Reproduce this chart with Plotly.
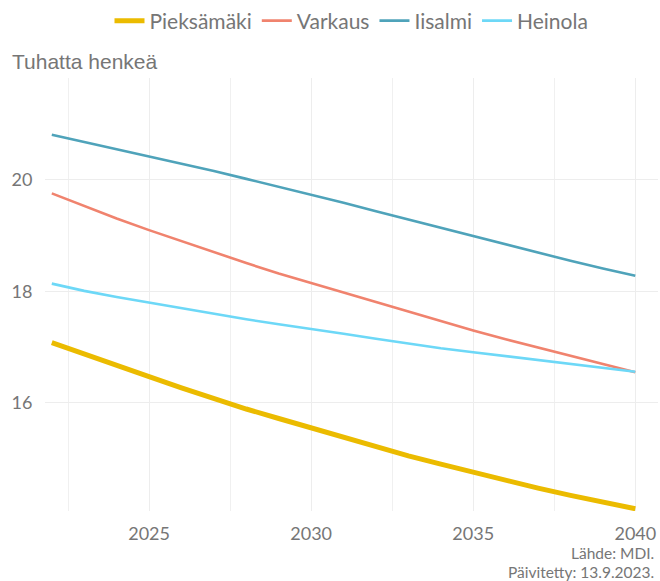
import plotly.graph_objects as go

years = list(range(2022, 2041))
pieksamaki = [17.08, 16.87, 16.66, 16.47, 16.27, 16.07, 15.89, 15.72, 15.55, 15.38,
              15.21, 15.05, 14.90, 14.75, 14.61, 14.47, 14.34, 14.22, 14.10]
varkaus = [19.76, 19.53, 19.31, 19.10, 18.90, 18.70, 18.51, 18.32, 18.15, 17.97,
           17.80, 17.63, 17.46, 17.30, 17.14, 16.99, 16.84, 16.69, 16.55]
iisalmi = [20.81, 20.68, 20.56, 20.43, 20.30, 20.16, 20.02, 19.88, 19.74, 19.59,
           19.44, 19.29, 19.14, 18.99, 18.84, 18.69, 18.55, 18.41, 18.28]
heinola = [18.14, 18.01, 17.90, 17.80, 17.69, 17.59, 17.50, 17.41, 17.33, 17.24,
           17.15, 17.06, 16.98, 16.91, 16.84, 16.76, 16.69, 16.63, 16.56]

names = ["Pieksämäki", "Varkaus", "Iisalmi", "Heinola"]
colors = ["#EBBB00", "#F0836E", "#4FA3BA", "#6DD8F7"]
widths = [5, 2.6, 2.6, 2.6]
series = [pieksamaki, varkaus, iisalmi, heinola]

x_ticks = [2025, 2030, 2035, 2040]
y_ticks = [16, 18, 20]
caption_lines = ["Lähde: MDI.", "Päivitetty: 13.9.2023."]

grey = "#767676"
font = "Lato"

fig = go.Figure()
order = [1, 2, 3, 0]
for i in order:
    fig.add_trace(go.Scatter(
        x=years, y=series[i], mode="lines", name=names[i],
        line=dict(color=colors[i], width=widths[i]),
        legendrank=i + 1,
    ))

annotations = []
for k, line in enumerate(caption_lines):
    annotations.append(dict(
        text=line, xref="paper", yref="paper", x=1, y=0,
        xanchor="right", yanchor="middle", xshift=-2, yshift=-42 - 19 * k,
        showarrow=False, font=dict(family=font, size=15.5, color=grey)))

fig.update_layout(
    width=660, height=581,
    margin=dict(l=45, r=2, t=78, b=70, autoexpand=False),
    plot_bgcolor="white", paper_bgcolor="white",
    font=dict(family=font, color=grey, size=18),
    showlegend=True,
    legend=dict(orientation="h", xref="paper", x=0.5, xanchor="center",
                yref="container", y=1 - 21 / 581, yanchor="middle",
                font=dict(family=font, size=21, color=grey),
                itemwidth=30, traceorder="normal"),
    title=dict(text="Tuhatta henkeä", xref="container", x=12 / 660, xanchor="left",
               yref="container", y=1 - 62 / 581, yanchor="middle", automargin=False,
               font=dict(family="Liberation Sans", size=21, color=grey)),
    xaxis=dict(range=[2021.79, 2040.7], tickvals=x_ticks, showgrid=True, automargin=False,
               gridcolor="#EDEDED", gridwidth=1.4, zeroline=False, showline=False,
               ticks="outside", ticklen=6, tickcolor="rgba(0,0,0,0)",
               tickfont=dict(family=font, size=18, color=grey),
               minor=dict(dtick=2.5, tick0=2022.5, showgrid=True,
                          gridcolor="#F0F0F0", gridwidth=1.4)),
    yaxis=dict(range=[14.06, 21.83], tickvals=y_ticks, showgrid=True, automargin=False,
               gridcolor="#EDEDED", gridwidth=1.4, zeroline=False, showline=False,
               ticks="outside", ticklen=8, tickcolor="rgba(0,0,0,0)",
               tickfont=dict(family=font, size=18, color=grey)),
    annotations=annotations,
)

fig.write_html("out.html", config={"displayModeBar": False},
               post_script="document.body.style.margin='0';document.body.style.overflow='hidden';")
